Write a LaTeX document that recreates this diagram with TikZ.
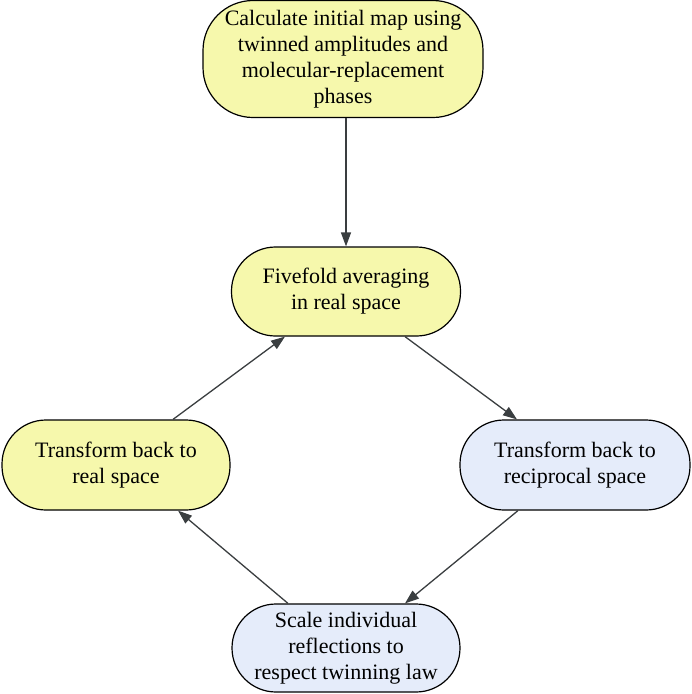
\documentclass[tikz,border=0pt]{standalone}
\usepackage{fontspec}
\setmainfont{Liberation Serif}
\usepackage{tikz}
\usetikzlibrary{calc,positioning}
\usetikzlibrary{arrows.meta}

\definecolor{boxyellow}{RGB}{246,248,172}
\definecolor{boxblue}{RGB}{229,236,250}
\definecolor{arrgray}{RGB}{58,62,64}

\begin{document}
\begin{tikzpicture}[x=1pt,y=1pt,
	box/.style={draw=black,line width=1.2pt,rounded corners=44pt,align=center,inner sep=0pt,
		font=\fontsize{22}{26}\selectfont},
	ybox/.style={box,fill=boxyellow},
	bbox/.style={box,fill=boxblue},
	arr/.style={draw=arrgray,line width=1.3pt,-{Triangle[length=14pt,width=10pt]}}]
				 %\draw[color=gray,step=10pt, help lines,opacity=0.3] (0,-694) grid (692,0); %help grids
				 \useasboundingbox (0,0) rectangle (692,-694);
				 \node[ybox,rounded corners=50pt,minimum width=280pt,minimum height=117pt] (calc) at (343,-59)
				 {Calculate initial map using\\twinned amplitudes and\\molecular-replacement\\phases};
				 \node[ybox,minimum width=229pt,minimum height=89pt] (avg) at (346,-291.5)
				 {Fivefold averaging\\in real space};
				 \node[ybox,minimum width=228pt,minimum height=90pt] (realsp) at (116,-465)
				 {Transform back to\\real space};
				 \node[bbox,minimum width=230pt,minimum height=90pt] (recsp) at (575,-465)
				 {Transform back to\\reciprocal space};
				 \node[bbox,minimum width=228pt,minimum height=88pt] (scale) at (346,-648)
				 {Scale individual\\reflections to\\respect twinning law};
				 % arrows round the cycle
				 \draw[arr] (calc.south -| avg.south) -- (avg.north);
				 \draw[arr] ([xshift=59pt]avg.south) -- ([xshift=-58pt]recsp.north);
				 \draw[arr] ([xshift=-57pt]recsp.south) -- ([xshift=59pt]scale.north);
				 \draw[arr] ([xshift=-58pt]scale.north) -- ([xshift=62pt]realsp.south);
				 \draw[arr] ([xshift=57pt]realsp.north) -- ([xshift=-61pt]avg.south);
\end{tikzpicture}
\end{document}
